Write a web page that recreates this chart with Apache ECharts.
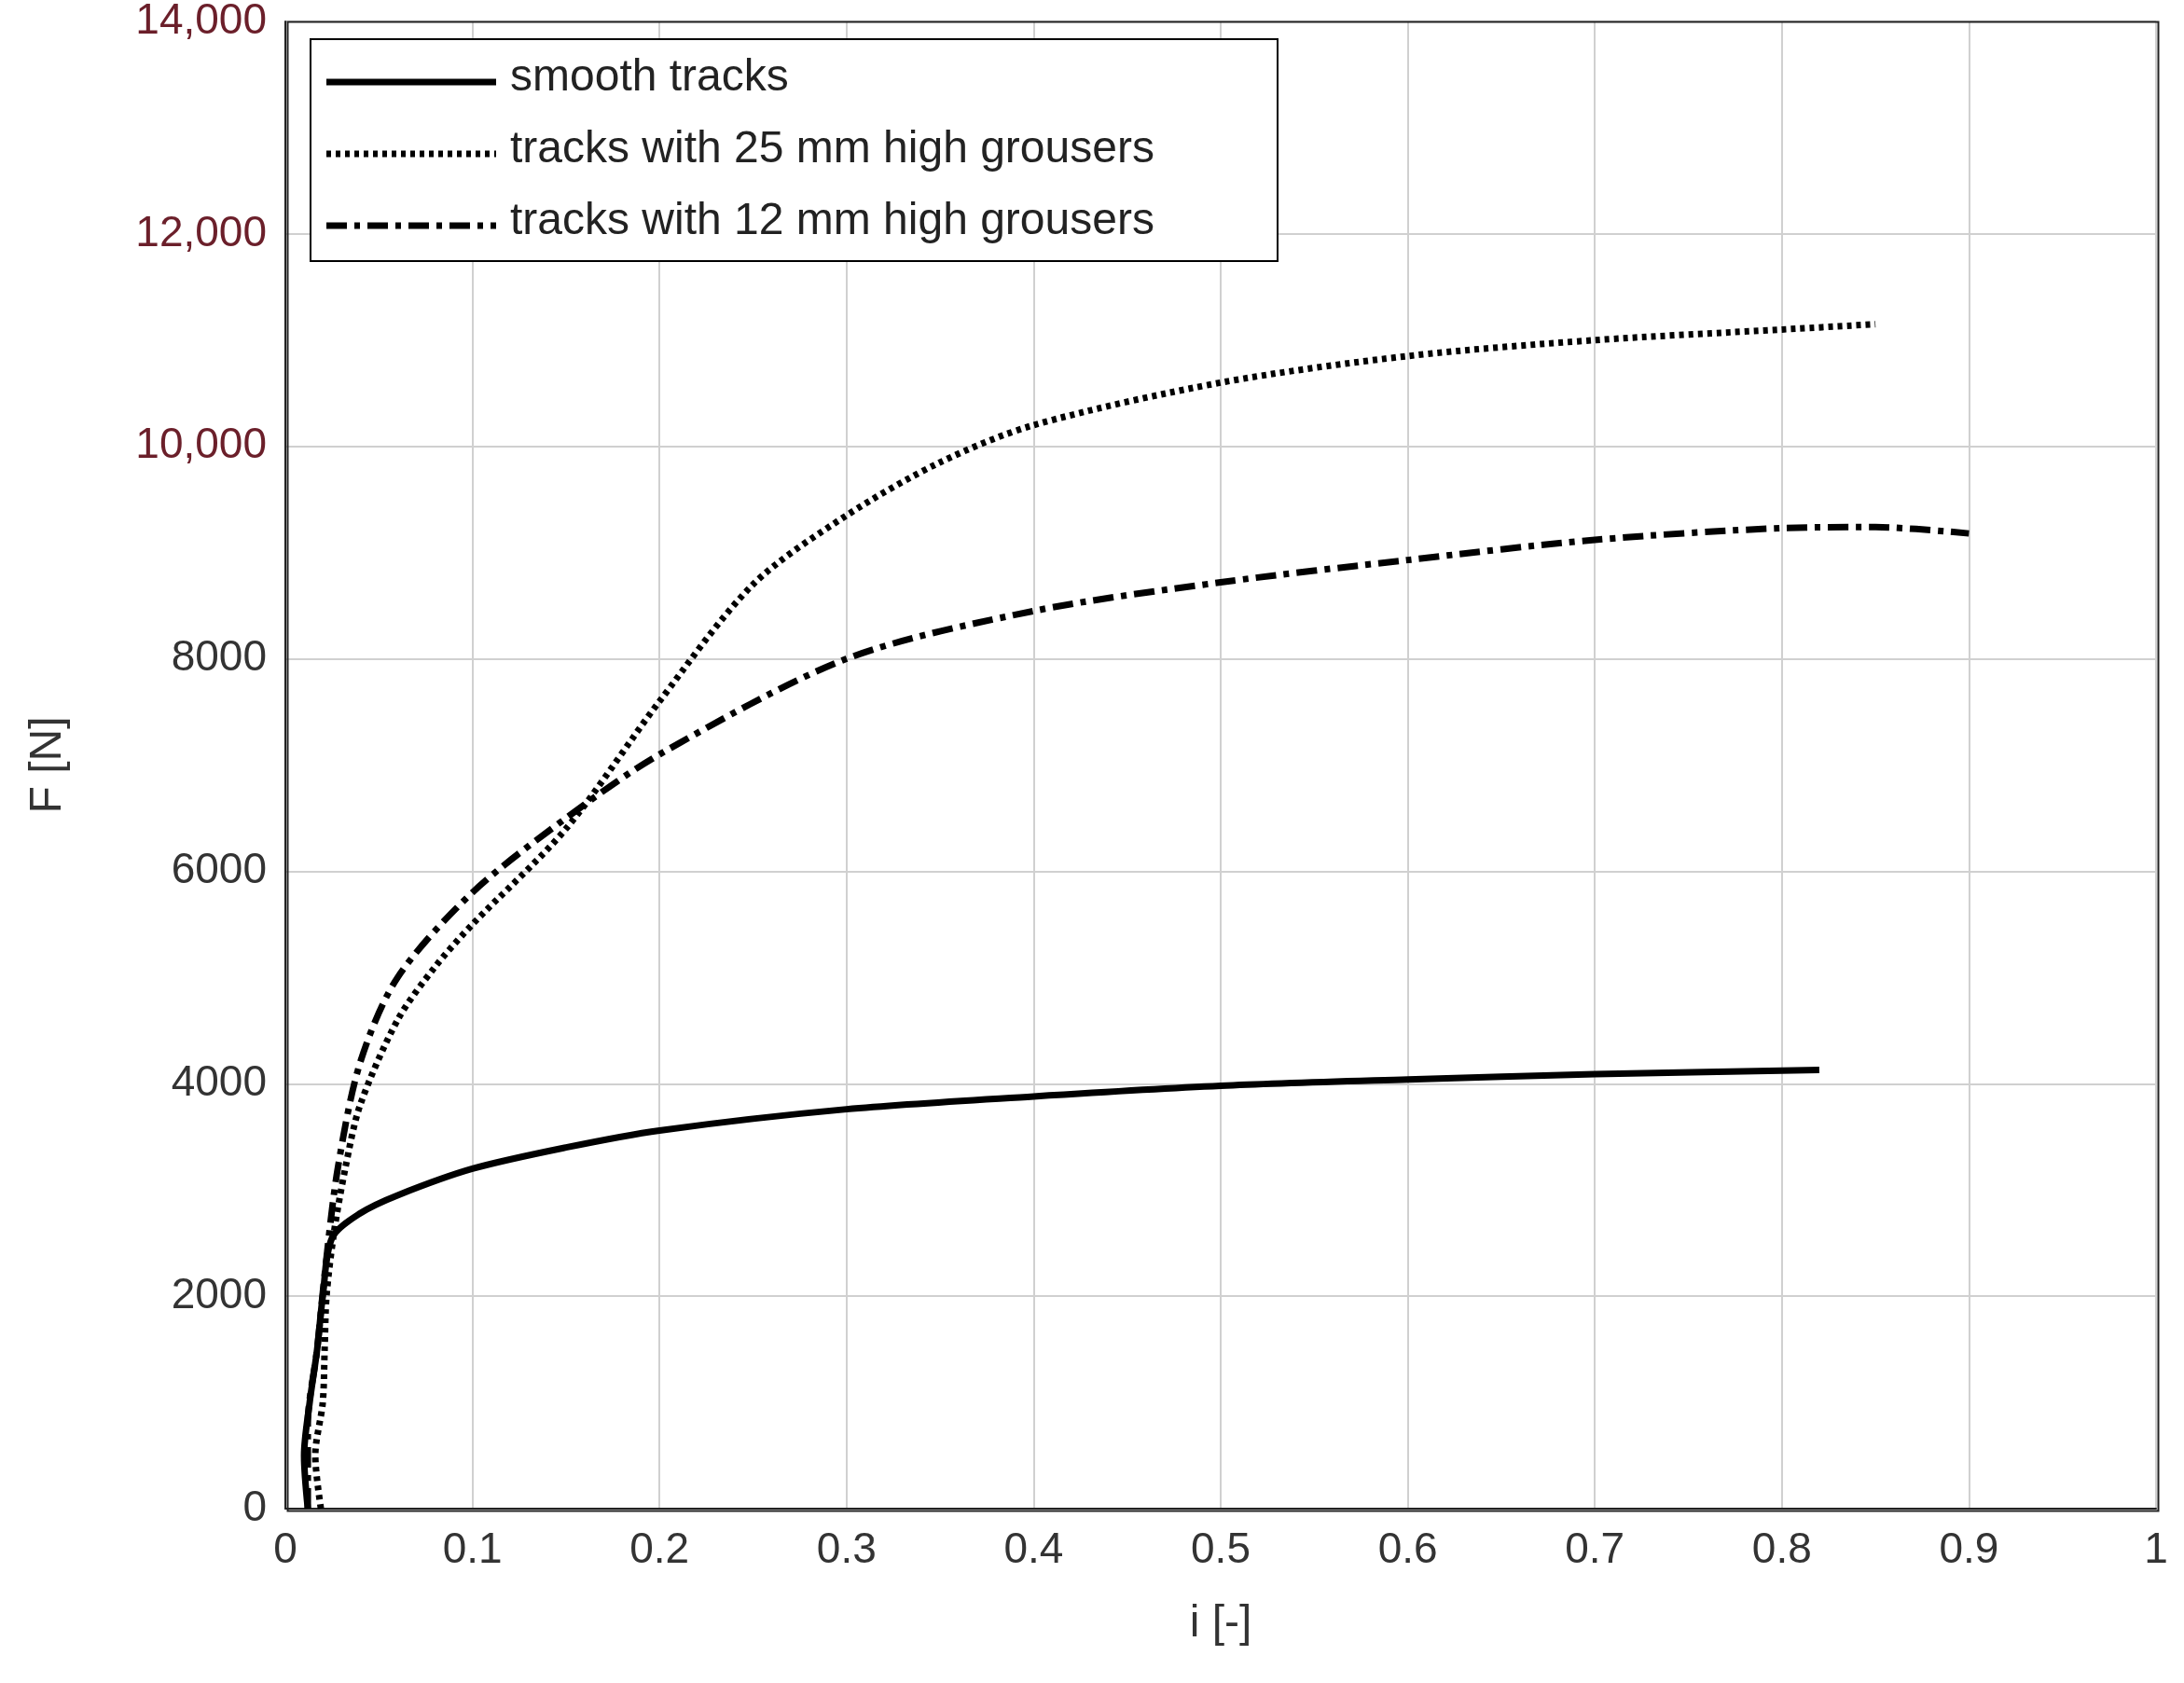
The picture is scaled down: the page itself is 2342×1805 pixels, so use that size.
<!DOCTYPE html>
<html>
<head>
<meta charset="utf-8">
<script src="https://cdn.jsdelivr.net/npm/echarts@6/dist/echarts.min.js"></script>
<style>html,body{margin:0;padding:0;background:#fff}#chart{width:2342px;height:1805px}</style>
</head>
<body>
<div id="chart"></div>
<script>
// slip i [-] vs traction force F [N]
const smoothTracks = [[0.012,0],[0.010,500],[0.013,1000],[0.017,1500],[0.020,2000],[0.025,2550],[0.04,2780],[0.06,2950],[0.1,3200],[0.15,3400],[0.2,3560],[0.3,3760],[0.4,3880],[0.5,3980],[0.6,4040],[0.7,4090],[0.82,4130]];
const grousers25 = [[0.019,0],[0.016,500],[0.020,1000],[0.021,1500],[0.022,2000],[0.026,2600],[0.032,3200],[0.04,3800],[0.06,4600],[0.08,5100],[0.1,5500],[0.15,6400],[0.2,7600],[0.25,8700],[0.3,9350],[0.35,9850],[0.4,10200],[0.5,10600],[0.6,10850],[0.7,11000],[0.8,11100],[0.85,11150]];
const grousers12 = [[0.012,0],[0.012,800],[0.017,1500],[0.021,2200],[0.028,3200],[0.04,4200],[0.06,5000],[0.1,5800],[0.15,6500],[0.2,7100],[0.3,8000],[0.4,8450],[0.5,8720],[0.6,8930],[0.7,9120],[0.8,9230],[0.85,9240],[0.9,9180]];
const legendNames = ['smooth tracks', 'tracks with 25 mm high grousers', 'tracks with 12 mm high grousers'];

const font = 'Liberation Sans, Arial, sans-serif';
const dashes = ['solid', [5, 5], [22, 8, 6, 8]];
const widths = [7, 7, 7];

const chart = echarts.init(document.getElementById('chart'));

const legendGraphics = [{
  type: 'rect', left: 332, top: 41, shape: {width: 1037, height: 238},
  style: {fill: '#fff', stroke: '#000', lineWidth: 2}, z: 10
}];
legendNames.forEach((name, k) => {
  const y = 88 + k * 77;
  legendGraphics.push({
    type: 'line', shape: {x1: 350, y1: y, x2: 532, y2: y},
    style: {stroke: '#000', lineWidth: widths[k], lineDash: dashes[k]}, z: 11
  });
  legendGraphics.push({
    type: 'text', left: 547, top: y - 28,
    style: {text: name, font: '48px ' + font, fill: '#222'}, z: 11
  });
});

chart.setOption({
  animation: false,
  grid: {left: 306, right: 30, top: 21, bottom: 187},
  xAxis: {
    type: 'value', min: 0, max: 1, interval: 0.1,
    name: 'i [-]', nameLocation: 'middle', nameGap: 100,
    nameTextStyle: {fontSize: 48, fontFamily: font, color: '#333'},
    axisLine: {show: true, onZero: false, lineStyle: {color: '#222', width: 2}},
    axisTick: {show: false},
    axisLabel: {fontSize: 46, fontFamily: font, color: '#333', margin: 22},
    splitLine: {show: true, lineStyle: {color: '#d0d0d0', width: 2}}
  },
  yAxis: {
    type: 'value', min: 0, max: 14000, interval: 2000,
    name: 'F [N]', nameLocation: 'middle', nameGap: 230,
    nameTextStyle: {fontSize: 48, fontFamily: font, color: '#333'},
    axisLine: {show: true, lineStyle: {color: '#222', width: 2}},
    axisTick: {show: false},
    axisLabel: {
      fontSize: 46, fontFamily: font, margin: 20,
      formatter: v => v >= 10000 ? '{r|' + v.toLocaleString('en-US') + '}' : String(v),
      color: '#333',
      rich: {r: {fontSize: 46, fontFamily: font, color: '#6b1f2a'}}
    },
    splitLine: {show: true, lineStyle: {color: '#d0d0d0', width: 2}}
  },
  graphic: [
    {type: 'rect', left: 306, top: 21, shape: {width: 2006, height: 1597}, style: {fill: 'none', stroke: '#222', lineWidth: 2}, z: 5}
  ].concat(legendGraphics),
  series: [smoothTracks, grousers25, grousers12].map((d, k) => ({
    name: legendNames[k], type: 'line', data: d, showSymbol: false, smooth: 0.3,
    lineStyle: {color: '#000', width: widths[k], type: dashes[k]}
  }))
});
</script>
</body>
</html>
